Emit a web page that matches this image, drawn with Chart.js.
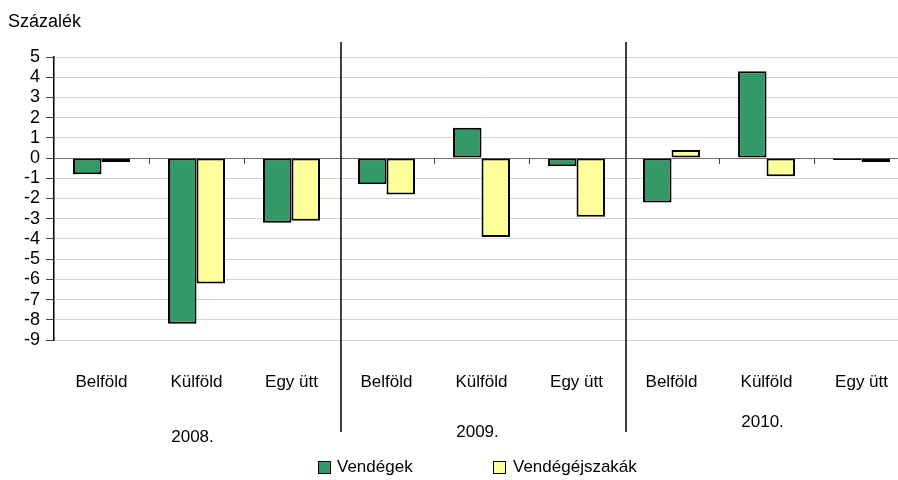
<!DOCTYPE html>
<html>
<head>
<meta charset="utf-8">
<script src="https://cdn.jsdelivr.net/npm/chart.js@4"></script>
<style>
  html, body { margin: 0; padding: 0; background: #fff; overflow: hidden; }
  #wrap { position: relative; width: 920px; height: 480px; }
  #c { display: block; width: 920px; height: 480px; }
  .txt { position: absolute; font-family: "Liberation Sans Narrow", "Liberation Sans", Arial, sans-serif; font-size: 17px; color: #000; white-space: nowrap; }
  .box { position: absolute; width: 11px; height: 11px; border: 1.5px solid #000; }
</style>
</head>
<body>
<div id="wrap">
  <canvas id="c" width="920" height="480"></canvas>
  <div class="txt" style="left:8px; top:11px; font-size:18px;">Százalék</div>
  <div class="box" style="left:318px; top:461px; background:#339966;"></div>
  <div class="txt" style="left:337px; top:457px;">Vendégek</div>
  <div class="box" style="left:493px; top:461px; background:#FFFF99;"></div>
  <div class="txt" style="left:513px; top:457px;">Vendégéjszakák</div>
</div>
<script>
// categories and groups
const categories = ["Belföld", "Külföld", "Egy ütt", "Belföld", "Külföld", "Egy ütt", "Belföld", "Külföld", "Egy ütt"];
const years = ["2008.", "2009.", "2010."];
const yearLabelY = [437, 432, 422];

// series (percent change)
const vendegek = [-0.8, -8.2, -3.2, -1.3, 1.5, -0.4, -2.2, 4.3, -0.1];
const vendegejszakak = [-0.2, -6.2, -3.1, -1.8, -3.9, -2.9, 0.4, -0.9, -0.2];

const yMin = -9;
const yMax = 5;

const FONT = '"Liberation Sans Narrow", "Liberation Sans", Arial, sans-serif';

// group dividers, year labels, small ticks on the zero line
const extras = {
  id: "extras",
  afterDraw(chart) {
    const ctx = chart.ctx;
    const x = chart.scales.x;
    const y = chart.scales.y;
    const zeroY = y.getPixelForValue(0);
    const step = x.getPixelForValue(1) - x.getPixelForValue(0);

    ctx.save();
    // small ticks at category boundaries
    ctx.strokeStyle = "#444";
    ctx.lineWidth = 1;
    for (let i = 1; i < categories.length; i++) {
      if (i % 3 === 0) continue;
      const px = Math.round(x.getPixelForValue(i) - step / 2) + 0.5;
      ctx.beginPath();
      ctx.moveTo(px, zeroY);
      ctx.lineTo(px, zeroY + 6);
      ctx.stroke();
    }
    // group dividers
    ctx.strokeStyle = "#000";
    ctx.lineWidth = 1.5;
    for (let g = 1; g < years.length; g++) {
      const px = Math.round(x.getPixelForValue(g * 3) - step / 2) + 2;
      ctx.beginPath();
      ctx.moveTo(px, 42);
      ctx.lineTo(px, 432);
      ctx.stroke();
    }
    // year labels
    ctx.fillStyle = "#000";
    ctx.font = "17px " + FONT;
    ctx.textAlign = "center";
    ctx.textBaseline = "middle";
    years.forEach((yr, g) => {
      const cx = x.getPixelForValue(g * 3 + 1);
      ctx.fillText(yr, cx - 4, yearLabelY[g]);
    });
    ctx.restore();
  }
};

new Chart(document.getElementById("c"), {
  type: "bar",
  data: {
    labels: categories,
    datasets: [
      {
        label: "Vendégek",
        data: vendegek,
        backgroundColor: "#339966",
        borderColor: "#000",
        borderWidth: 2,
        borderSkipped: false
      },
      {
        label: "Vendégéjszakák",
        data: vendegejszakak,
        backgroundColor: "#FFFF99",
        borderColor: "#000",
        borderWidth: 2,
        borderSkipped: false
      }
    ]
  },
  options: {
    responsive: false,
    animation: false,
    devicePixelRatio: 1,
    layout: { padding: { top: 57, left: 0, right: 0, bottom: 0 } },
    plugins: {
      legend: { display: false },
      tooltip: { enabled: false }
    },
    datasets: {
      bar: { categoryPercentage: 0.6, barPercentage: 1.0 }
    },
    scales: {
      x: {
        grid: { display: false, drawTicks: false },
        border: { display: false },
        ticks: {
          padding: 32,
          color: "#000",
          font: { family: FONT, size: 17 },
          maxRotation: 0,
          autoSkip: false
        },
        afterFit(scale) { scale.height = 140; }
      },
      y: {
        min: yMin,
        max: yMax,
        ticks: {
          stepSize: 1,
          autoSkip: false,
          color: "#000",
          padding: 6,
          font: { family: FONT, size: 18 }
        },
        grid: {
          color: (c) => (c.tick && c.tick.value === 0 ? "#707070" : "#d4d4d4"),
          lineWidth: 1,
          tickColor: "#444",
          tickLength: 8
        },
        border: { display: true, color: "#000", width: 1.5 },
        afterFit(scale) { scale.width = 54; }
      }
    }
  },
  plugins: [extras]
});
</script>
</body>
</html>
